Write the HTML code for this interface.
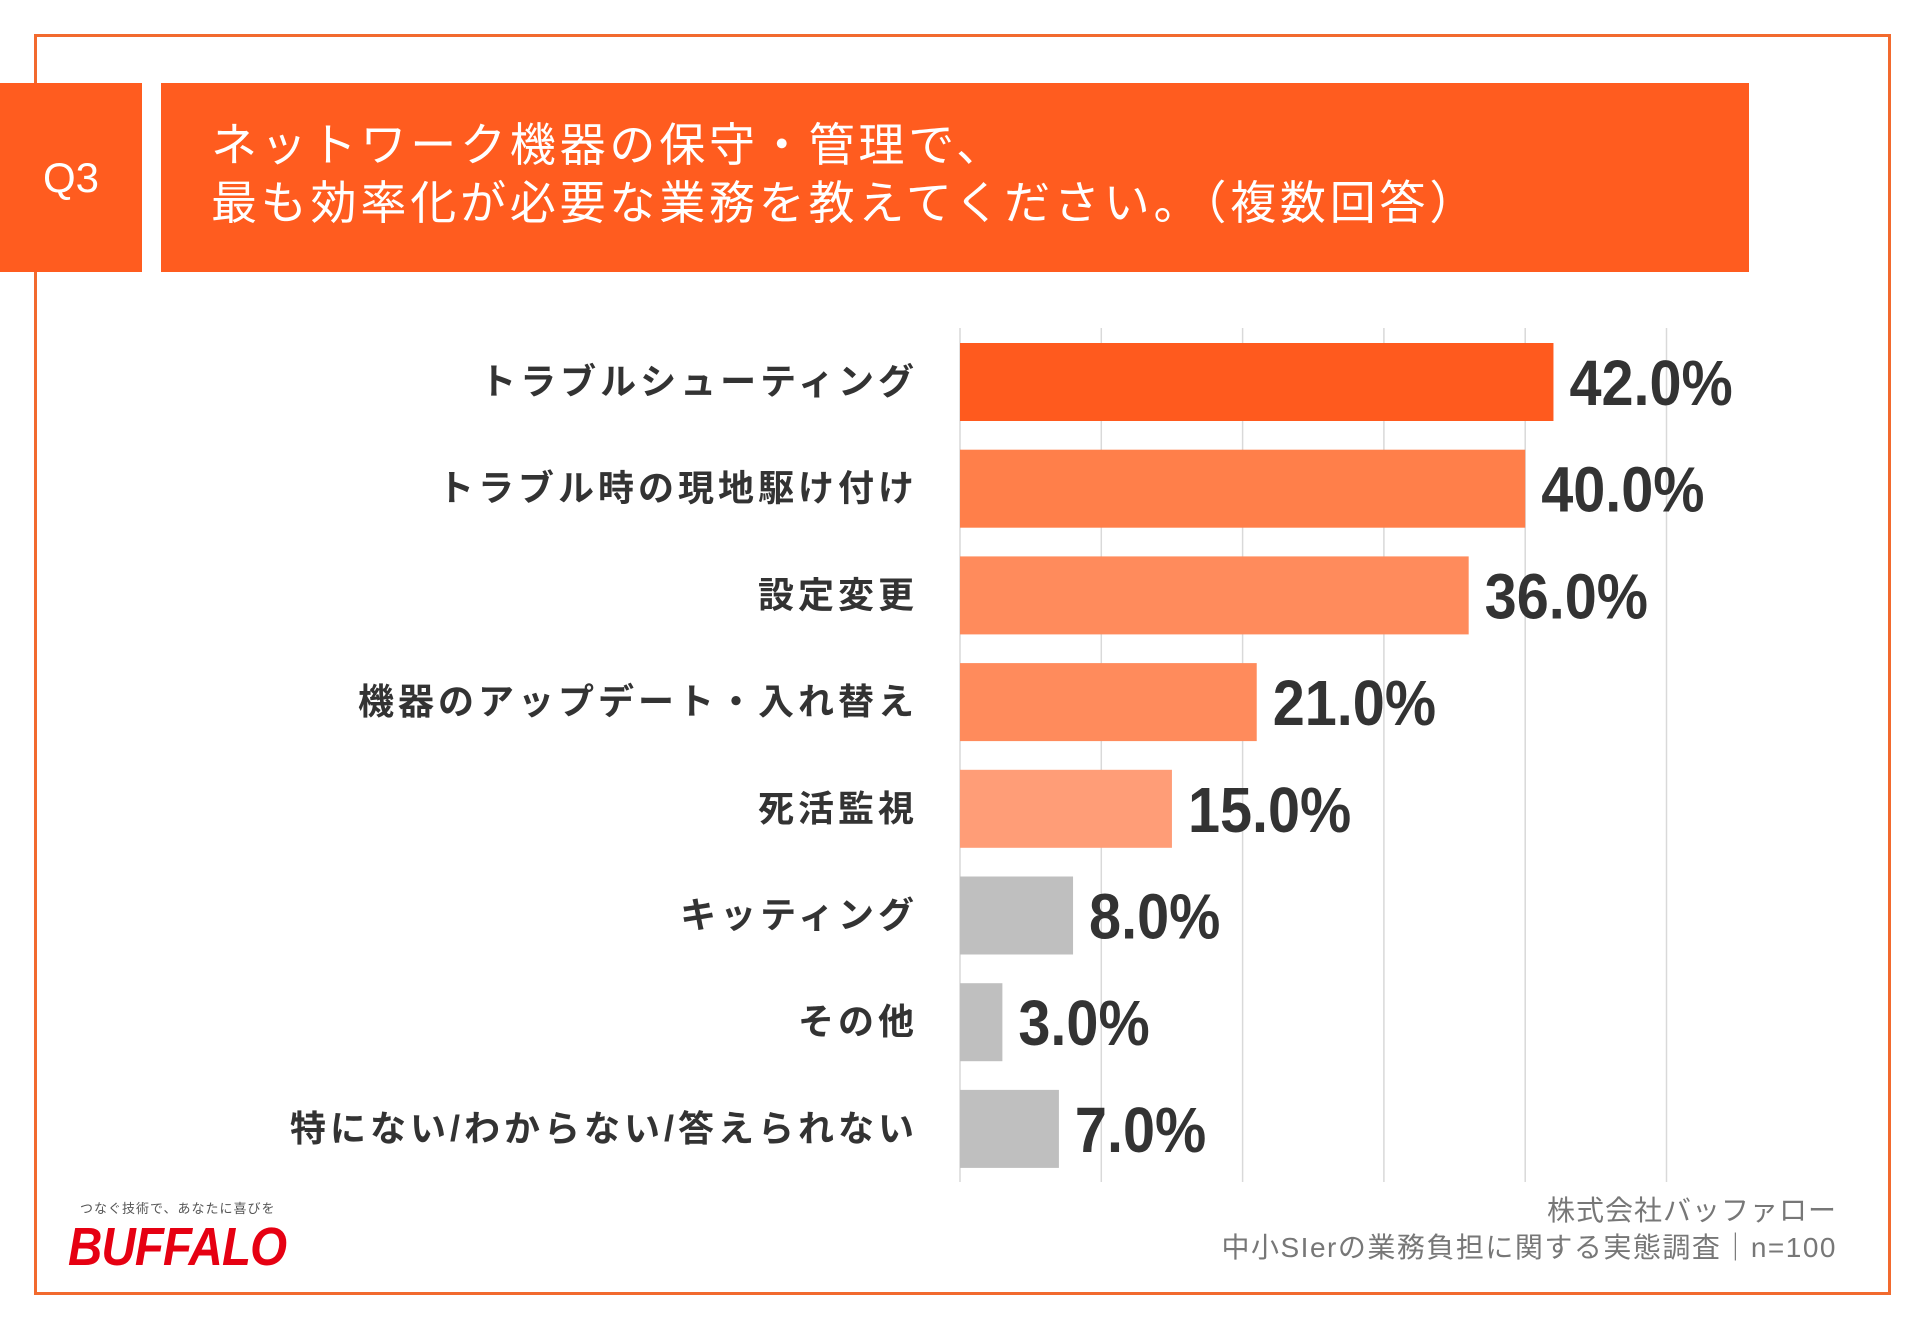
<!DOCTYPE html>
<html><head><meta charset="utf-8">
<style>
html,body{margin:0;padding:0;background:#fff;}
body{width:1920px;height:1329px;position:relative;overflow:hidden;font-family:"Liberation Sans","Noto Sans CJK JP",sans-serif;}
.abs{position:absolute;}
</style></head>
<body>
<div class="abs" style="left:34px;top:34px;width:1857px;height:1261px;border:3px solid #F26A2E;box-sizing:border-box;"></div>
<div class="abs" style="left:0;top:83px;width:142px;height:189px;background:#FF5C1F;color:#fff;font-size:42px;display:flex;align-items:center;justify-content:center;">Q3</div>
<div class="abs" style="left:161px;top:83px;width:1588px;height:189px;background:#FF5C1F;"></div>
<div class="abs" style="left:211px;top:116px;color:#fff;font-size:46px;line-height:58px;letter-spacing:3.8px;white-space:nowrap;">ネットワーク機器の保守・管理で、<br>最も効率化が必要な業務を教えてください。（複数回答）</div>
<svg class="abs" style="left:0;top:0;" width="1920" height="1329" id="chart"></svg>
<div class="abs" style="right:83px;top:1189px;color:#777;font-size:28px;letter-spacing:1px;white-space:nowrap;">株式会社バッファロー</div>
<div class="abs" style="right:83px;top:1226px;color:#777;font-size:28px;letter-spacing:1.5px;white-space:nowrap;">中小SIerの業務負担に関する実態調査｜n=100</div>
<div class="abs" style="left:80px;top:1198px;color:#555;font-size:13px;letter-spacing:1px;white-space:nowrap;">つなぐ技術で、あなたに喜びを</div>
<div class="abs" style="left:68px;top:1216px;color:#E60012;font-size:54px;font-weight:bold;font-style:italic;transform:scaleX(0.88);transform-origin:left top;letter-spacing:-1px;white-space:nowrap;">BUFFALO</div>
<script>
const categories=["トラブルシューティング","トラブル時の現地駆け付け","設定変更","機器のアップデート・入れ替え","死活監視","キッティング","その他","特にない/わからない/答えられない"];
const values=[42.0,40.0,36.0,21.0,15.0,8.0,3.0,7.0];
const colors=["#FF5A1E","#FF7F4A","#FF8B5C","#FF8B5C","#FF9D77","#BFBFBF","#BFBFBF","#BFBFBF"];
const gridTicks=[0,10,20,30,40,50];
const NS="http://www.w3.org/2000/svg";
const svg=document.getElementById('chart');
const x0=960,pxPer=14.13,top0=343,pitch=106.7,bh=78,gTop=328,gBot=1182;
function xs(v){return x0+v*pxPer;}
function yb(i){return top0+i*pitch;}
gridTicks.forEach(t=>{
  const l=document.createElementNS(NS,'line');
  
  
  l.setAttribute('x1',xs(t));l.setAttribute('x2',xs(t));
  l.setAttribute('y1',gTop);l.setAttribute('y2',gBot);
  l.setAttribute('stroke','#D9D9D9');l.setAttribute('stroke-width','1.5');
  svg.appendChild(l);
});
values.forEach((v,i)=>{
  const r=document.createElementNS(NS,'rect');
  
  
  r.setAttribute('x',x0);r.setAttribute('y',yb(i));
  r.setAttribute('width',xs(v)-x0);r.setAttribute('height',bh);
  r.setAttribute('fill',colors[i]);
  svg.appendChild(r);
  const t=document.createElementNS(NS,'text');
  
  
  t.setAttribute('transform','translate('+(xs(v)+16)+','+(yb(i)+bh/2+23)+') scale(0.9,1)');
  t.setAttribute('font-size','64');t.setAttribute('fill','#333');t.setAttribute('font-weight','bold');
  t.setAttribute('font-family','"Liberation Sans",sans-serif');
  t.textContent=v.toFixed(1)+'%';
  svg.appendChild(t);
  const c=document.createElementNS(NS,'text');
  
  
  c.setAttribute('x',918);c.setAttribute('y',yb(i)+bh/2+12);
  c.setAttribute('text-anchor','end');
  c.setAttribute('font-size','36');c.setAttribute('fill','#333');c.setAttribute('font-weight','bold');
  c.setAttribute('letter-spacing','4');
  c.setAttribute('font-family','"Liberation Sans","Noto Sans CJK JP",sans-serif');
  c.textContent=categories[i];
  svg.appendChild(c);
});
</script>
</body></html>
